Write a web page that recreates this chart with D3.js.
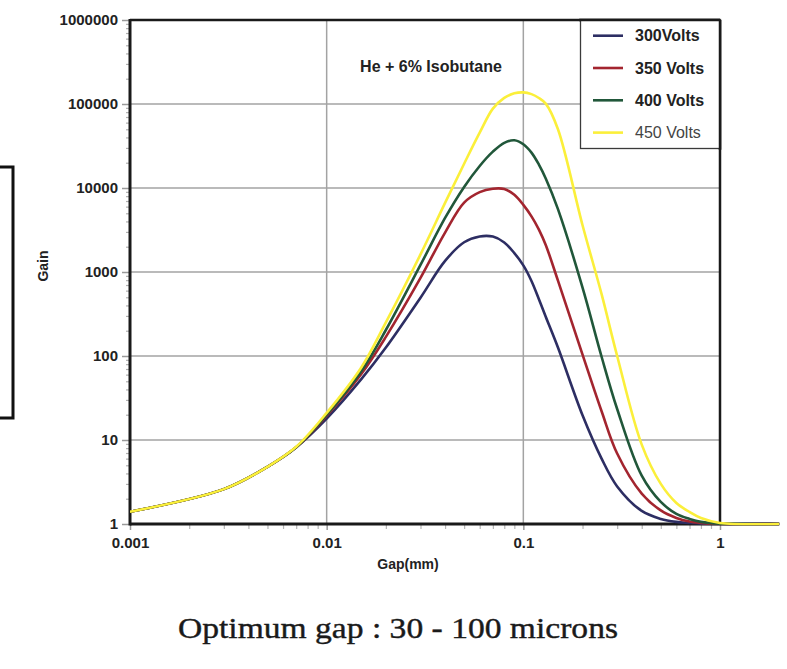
<!DOCTYPE html>
<html>
<head>
<meta charset="utf-8">
<script src="https://cdn.jsdelivr.net/npm/d3@7"></script>
<style>
  html, body { margin: 0; padding: 0; background: #fff; }
  svg { display: block; }
</style>
</head>
<body>
<script>
// Gas gain versus gap size for several mesh voltages (He + 6% isobutane)
const gapMm = [0.001, 0.003, 0.005, 0.007, 0.01, 0.015, 0.02, 0.03, 0.04, 0.05, 0.06, 0.07, 0.08, 0.09, 0.1, 0.11, 0.12, 0.13, 0.15, 0.2, 0.25, 0.3, 0.4, 0.5, 0.6, 0.7, 0.8, 1, 2];
const gain300 = [1.4, 2.6, 4.8, 8.2, 18, 53, 126, 494, 1355, 2260, 2650, 2640, 2250, 1680, 1200, 783, 475, 293, 126, 19.7, 6.0, 2.8, 1.43, 1.15, 1.06, 1.03, 1.01, 1.0, 1.0];
const gain350 = [1.4, 2.6, 4.8, 8.2, 19.5, 61, 169, 850, 2950, 6700, 8930, 9800, 9720, 8300, 6300, 4600, 3200, 2100, 790, 104, 22, 6.9, 2.3, 1.45, 1.18, 1.07, 1.03, 1.0, 1.0];
const gain400 = [1.4, 2.6, 4.8, 8.2, 20, 66, 204, 1214, 4400, 10300, 18300, 27100, 34500, 37000, 33200, 26400, 19000, 13000, 5600, 652, 98, 23.4, 3.76, 1.83, 1.32, 1.15, 1.06, 1.01, 1.0];
const gain450 = [1.4, 2.6, 4.8, 8.3, 21, 73, 251, 1620, 6640, 19450, 45600, 88000, 118300, 134000, 137500, 131000, 118000, 101000, 50000, 3600, 545, 100, 8.8, 3.0, 1.78, 1.39, 1.18, 1.03, 1.0];

const seriesNames = ["300Volts", "350 Volts", "400 Volts", "450 Volts"];
const seriesColors = ["#2d2e63", "#a3252f", "#21573a", "#fbef3a"];
const seriesGains = [gain300, gain350, gain400, gain450];

const yTickValues = [1, 10, 100, 1000, 10000, 100000, 1000000];
const xTickValues = [0.001, 0.01, 0.1, 1];
const xTickLabels = ["0.001", "0.01", "0.1", "1"];

const SANS = "'Liberation Sans', Arial, Helvetica, sans-serif";
const SERIF = "'Times New Roman', 'Liberation Serif', Times, 'Noto Serif', serif";

const W = 787, H = 669;
const plot = { left: 130, right: 720, top: 20, bottom: 524 };

const svg = d3.select("body").append("svg").attr("width", W).attr("height", H)
  .style("font-family", SANS);

const x = d3.scaleLog().domain([0.001, 1]).range([plot.left, plot.right]);
const y = d3.scaleLog().domain([1, 1000000]).range([plot.bottom, plot.top]);

// minor tick values (2..9 of each decade)
const minorY = [];
for (let e = 0; e < 6; e++) for (let m = 2; m <= 9; m++) minorY.push(m * Math.pow(10, e));
const minorX = [];
for (let e = -3; e < 0; e++) for (let m = 2; m <= 9; m++) minorX.push(m * Math.pow(10, e));

// grid lines
const grid = svg.append("g").attr("stroke", "#a3a3a3").attr("stroke-width", 1.5);
grid.selectAll("line.gy").data(yTickValues.slice(1, -1)).join("line")
  .attr("x1", plot.left).attr("x2", plot.right)
  .attr("y1", d => y(d)).attr("y2", d => y(d));
grid.selectAll("line.gx").data(xTickValues.slice(1, -1)).join("line")
  .attr("y1", plot.top).attr("y2", plot.bottom)
  .attr("x1", d => x(d)).attr("x2", d => x(d));

// y axis: major ticks with labels, then minor ticks
const yAxis = svg.append("g").attr("transform", `translate(${plot.left},0)`)
  .call(d3.axisLeft(y).tickValues(yTickValues).tickSize(8).tickPadding(4).tickFormat(d3.format("d")));
yAxis.select(".domain").remove();
yAxis.selectAll(".tick line").attr("stroke", "#9a9a9a").attr("stroke-width", 1.5);
yAxis.selectAll(".tick text").attr("font-size", 15).attr("font-weight", "bold").attr("fill", "#222")
  .style("font-family", SANS);

const yMinor = svg.append("g").attr("transform", `translate(${plot.left},0)`)
  .call(d3.axisLeft(y).tickValues(minorY).tickSize(4).tickFormat(""));
yMinor.select(".domain").remove();
yMinor.selectAll(".tick line").attr("stroke", "#b0b0b0").attr("stroke-width", 1.2);

// x axis
const xAxis = svg.append("g").attr("transform", `translate(0,${plot.bottom})`)
  .call(d3.axisBottom(x).tickValues(xTickValues).tickSize(6).tickPadding(7)
    .tickFormat((d, i) => xTickLabels[i]));
xAxis.select(".domain").remove();
xAxis.selectAll(".tick line").attr("stroke", "#9a9a9a").attr("stroke-width", 1.5);
xAxis.selectAll(".tick text").attr("font-size", 15).attr("font-weight", "bold").attr("fill", "#222")
  .style("font-family", SANS);

const xMinor = svg.append("g").attr("transform", `translate(0,${plot.bottom})`)
  .call(d3.axisBottom(x).tickValues(minorX).tickSize(5).tickFormat(""));
xMinor.select(".domain").remove();
xMinor.selectAll(".tick line").attr("stroke", "#b5b5b5").attr("stroke-width", 1.2);

// frame
const frame = svg.append("g").attr("stroke", "#1a1a1a").attr("fill", "none");
frame.append("line").attr("x1", plot.left).attr("x2", plot.right).attr("y1", plot.top).attr("y2", plot.top).attr("stroke-width", 2.5);
frame.append("line").attr("x1", plot.right).attr("x2", plot.right).attr("y1", plot.top).attr("y2", plot.bottom).attr("stroke-width", 2.5);
frame.append("line").attr("x1", plot.left).attr("x2", plot.left).attr("y1", plot.top - 1).attr("y2", plot.bottom + 1.5).attr("stroke-width", 3);
frame.append("line").attr("x1", plot.left).attr("x2", x(2)).attr("y1", plot.bottom).attr("y2", plot.bottom).attr("stroke-width", 3);

// curves, kept from dipping under the gain = 1 floor
svg.append("defs").append("clipPath").attr("id", "floor")
  .append("rect").attr("x", plot.left).attr("y", 0).attr("width", W - plot.left).attr("height", plot.bottom + 1.6);

const line = d3.line()
  .x(d => x(d[0]))
  .y(d => y(d[1]))
  .curve(d3.curveCatmullRom.alpha(0.5));

svg.append("g").attr("clip-path", "url(#floor)")
  .selectAll("path.curve").data(seriesGains).join("path")
  .attr("class", "curve")
  .attr("fill", "none")
  .attr("stroke", (d, i) => seriesColors[i])
  .attr("stroke-width", 2.6)
  .attr("stroke-linejoin", "round")
  .attr("d", g => line(gapMm.map((v, j) => [v, g[j]])));

// title inside the plot
svg.append("text").attr("x", 431).attr("y", 72).attr("text-anchor", "middle")
  .attr("font-size", 16).attr("font-weight", "bold").attr("fill", "#222")
  .text("He + 6% Isobutane");

// legend
const lg = svg.append("g");
lg.append("rect").attr("x", 580.5).attr("y", 19.5).attr("width", 140).attr("height", 129)
  .attr("fill", "#fff").attr("stroke", "#3a3a3a").attr("stroke-width", 1.3);
lg.append("line").attr("x1", plot.right).attr("x2", plot.right).attr("y1", plot.top).attr("y2", 150)
  .attr("stroke", "#1a1a1a").attr("stroke-width", 2.5);
lg.append("line").attr("x1", 579).attr("x2", plot.right).attr("y1", plot.top).attr("y2", plot.top)
  .attr("stroke", "#1a1a1a").attr("stroke-width", 2.5);
const legendRows = seriesNames.map((n, i) => ({ n, c: seriesColors[i], i }));
const rows = lg.selectAll("g.row").data(legendRows).join("g")
  .attr("transform", d => `translate(0,${35.7 + d.i * 32.3})`);
rows.append("line").attr("x1", 593).attr("x2", 623).attr("y1", 0).attr("y2", 0)
  .attr("stroke", d => d.c).attr("stroke-width", 2.6);
rows.append("text").attr("x", 635).attr("y", 5.5)
  .attr("font-size", 16)
  .attr("font-weight", d => d.i === 3 ? "normal" : "bold")
  .attr("fill", d => d.i === 3 ? "#444" : "#222")
  .text(d => d.n);

// axis titles
svg.append("text").attr("x", 408).attr("y", 569).attr("text-anchor", "middle")
  .attr("font-size", 14).attr("font-weight", "bold").attr("fill", "#222").text("Gap(mm)");
svg.append("text").attr("transform", "translate(48,266) rotate(-90)").attr("text-anchor", "middle")
  .attr("font-size", 14).attr("font-weight", "bold").attr("fill", "#222").text("Gain");

// bracket at the left edge
svg.append("path").attr("d", "M0,167 H13 V418 H0").attr("fill", "none")
  .attr("stroke", "#111").attr("stroke-width", 3);

// caption
svg.append("text").attr("x", 398).attr("y", 638).attr("text-anchor", "middle")
  .style("font-family", SERIF)
  .attr("font-size", 29).attr("fill", "#1a1a1a")
  .attr("stroke", "#1a1a1a").attr("stroke-width", 0.4)
  .attr("textLength", 440).attr("lengthAdjust", "spacingAndGlyphs")
  .text("Optimum gap : 30 - 100 microns");
</script>
</body>
</html>
